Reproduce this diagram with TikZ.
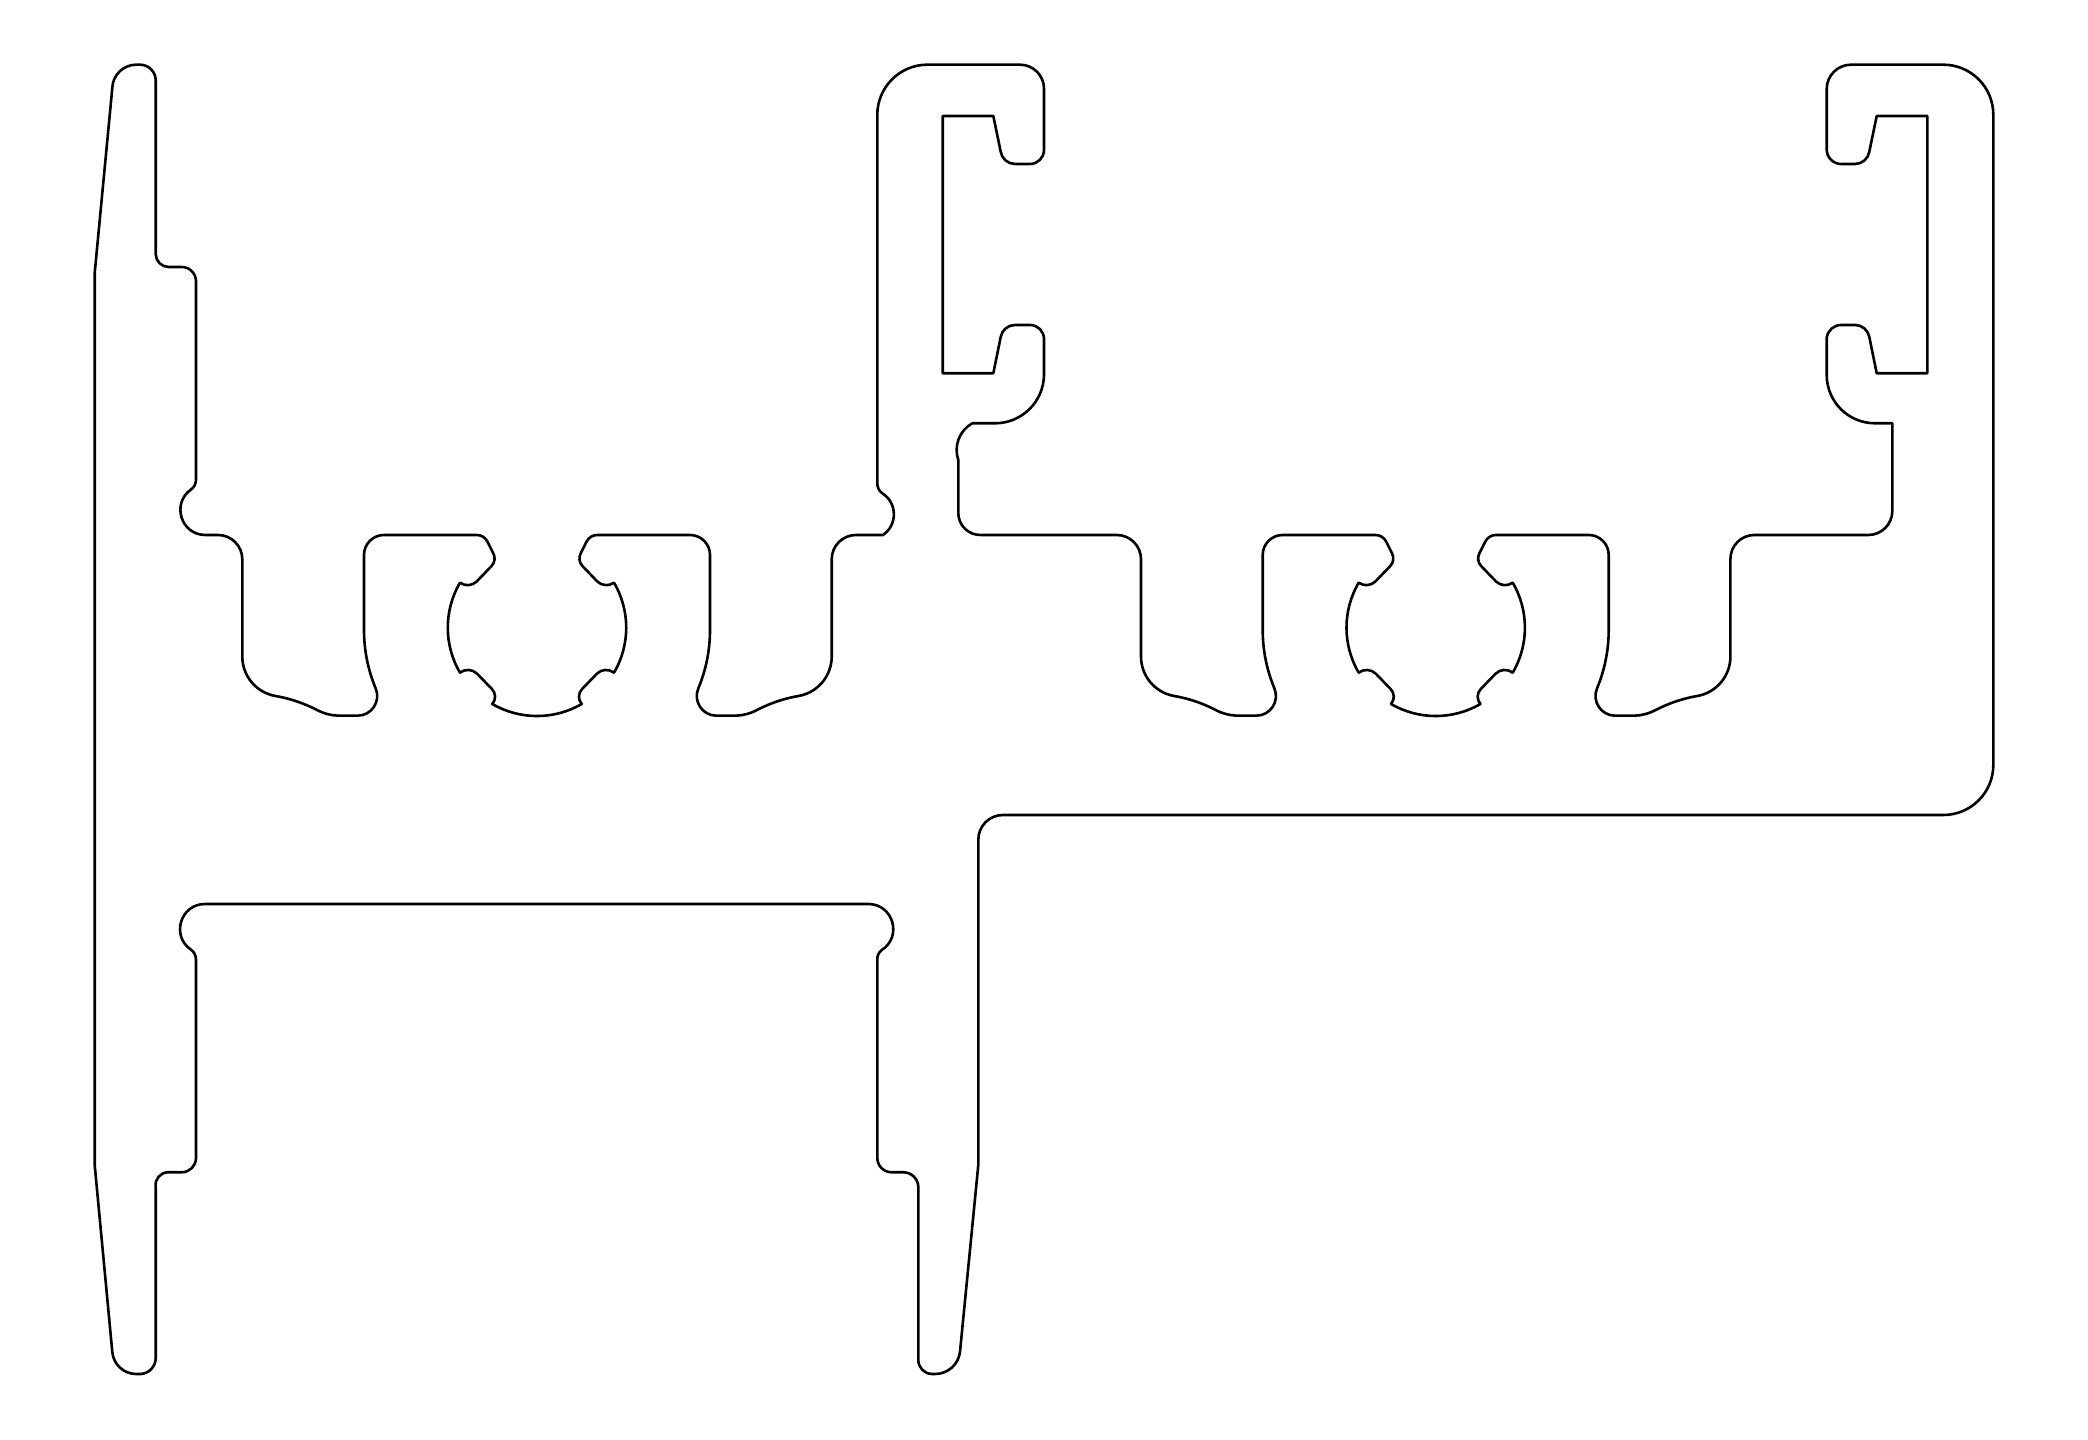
\documentclass[tikz,border=0pt]{standalone}
% path helpers: coordinates in reference pixels, y measured downwards
\newcommand\pM[2]{\xdef\pcx{#1}\xdef\pcy{#2}\pgfmathsetmacro\pyy{1440-#2}\pgfpathmoveto{\pgfqpoint{#1pt}{\pyy pt}}}
\newcommand\pL[2]{\xdef\pcx{#1}\xdef\pcy{#2}\pgfmathsetmacro\pyy{1440-#2}\pgfpathlineto{\pgfqpoint{#1pt}{\pyy pt}}}
\newcommand\pH[1]{\pL{#1}{\pcy}}
\newcommand\pV[1]{\pL{\pcx}{#1}}
\newcommand\pZ{\pgfpathclose}
\newcommand\pA[4]{%
  \pgfmathsetmacro\pdx{#3-\pcx}\pgfmathsetmacro\pdy{#4-\pcy}%
  \pgfmathsetmacro\pd{veclen(\pdx,\pdy)}%
  \pgfmathsetmacro\pth{asin(min(1,\pd/2/#1))}% half of the swept angle
  \pgfmathsetmacro\ph{atan2(\pdy,\pdx)}%
  \pgfmathsetmacro\pk{4/3*tan(\pth/2)*#1}%
  \pgfmathsetmacro\paa{\ph-#2*\pth}\pgfmathsetmacro\pab{\ph+#2*\pth}%
  \pgfmathsetmacro\pax{\pcx+\pk*cos(\paa)}\pgfmathsetmacro\pay{1440-(\pcy+\pk*sin(\paa))}%
  \pgfmathsetmacro\pbx{#3-\pk*cos(\pab)}\pgfmathsetmacro\pby{1440-(#4-\pk*sin(\pab))}%
  \pgfmathsetmacro\pyy{1440-#4}%
  \pgfpathcurveto{\pgfqpoint{\pax pt}{\pay pt}}{\pgfqpoint{\pbx pt}{\pby pt}}{\pgfqpoint{#3pt}{\pyy pt}}%
  \xdef\pcx{#3}\xdef\pcy{#4}}
\begin{document}
\begin{tikzpicture}
\path[use as bounding box,fill=white] (0pt,0pt) rectangle (2088pt,1440pt);
\begin{pgfscope}
\pgfsetlinewidth{2.6pt}\pgfsetroundjoin
\pM{94.7}{273}\pL{112.3}{88}\pA{24}{1}{136}{64.7}\pH{140}\pA{15.7}{1}{155.7}{80.4}
\pV{254}\pA{13}{-1}{168.7}{267}\pH{181.7}\pA{14.3}{1}{196}{281.3}\pV{480}\pA{12}{1}{190.8}{489.7}
\pA{25}{-1}{205}{535}\pH{218}\pA{24.3}{1}{242.3}{559.5}\pV{656.7}
\pA{40}{-1}{275.5}{696}\pA{142}{1}{316}{709.5}\pA{49}{-1}{338}{715.7}\pH{357.5}
\pA{19.7}{-1}{375.7}{688.4}\pA{151.6}{1}{364}{630}\pV{555}\pA{20}{1}{384}{535}\pH{476.7}
\pA{12}{1}{487.45}{541.6}\pL{493.3}{553.3}\pA{11}{1}{491.4}{566.2}\pL{476.7}{581.5}\pA{13}{1}{460}{582.7}
\pA{89}{-1}{460}{672.7}\pA{13}{1}{477.2}{673.8}\pL{491.8}{688.9}\pA{11}{1}{492.3}{704}
\pA{89}{-1}{581.7}{704}\pA{11}{1}{582.2}{688.9}\pL{596.8}{673.8}\pA{13}{1}{614}{672.7}
\pA{89}{-1}{614}{582.7}\pA{13}{1}{597.3}{581.5}\pL{582.6}{566.2}\pA{11}{1}{580.7}{553.3}\pL{586.55}{541.6}
\pA{12}{1}{597.3}{535}\pH{690}\pA{20}{1}{710}{555}\pV{630}\pA{151.6}{1}{698.3}{688.4}
\pA{19.7}{-1}{716.5}{715.7}\pH{736}\pA{49}{-1}{758}{709.5}\pA{142}{1}{798.5}{696}
\pA{40}{-1}{831.7}{656.7}\pV{559.5}\pA{24.3}{1}{856}{535}\pH{883}
\pA{25}{-1}{882}{493.1}\pA{12}{1}{877.3}{483}\pV{115}\pA{50}{1}{927}{64.7}\pH{1020}
\pA{24}{1}{1044}{89}\pV{150}\pA{14}{1}{1030}{164}\pH{1015}\pA{14.5}{1}{1000.7}{151.7}
\pL{993.3}{116}\pH{942.7}\pV{373.3}\pH{993.3}\pL{1000.7}{337}\pA{14.5}{1}{1015}{325}\pH{1030}
\pA{14}{1}{1044}{339}\pV{375}\pA{49}{1}{995}{423.3}\pH{972.3}
\pA{30.6}{-1}{958.3}{460}\pV{513}\pA{22}{-1}{981}{535}\pH{1116.7}
\pA{24.3}{1}{1141}{559.5}\pV{656.7}
\pA{40}{-1}{1174.2}{696}\pA{142}{1}{1214.7}{709.5}\pA{49}{-1}{1236.7}{715.7}\pH{1256.2}
\pA{19.7}{-1}{1274.4}{688.4}\pA{151.6}{1}{1262.7}{630}\pV{555}\pA{20}{1}{1282.7}{535}\pH{1375.4}
\pA{12}{1}{1386.15}{541.6}\pL{1392}{553.3}\pA{11}{1}{1390.1}{566.2}\pL{1375.4}{581.5}\pA{13}{1}{1358.7}{582.7}
\pA{89}{-1}{1358.7}{672.7}\pA{13}{1}{1375.9}{673.8}\pL{1390.5}{688.9}\pA{11}{1}{1391}{704}
\pA{89}{-1}{1480.4}{704}\pA{11}{1}{1480.9}{688.9}\pL{1495.5}{673.8}\pA{13}{1}{1512.7}{672.7}
\pA{89}{-1}{1512.7}{582.7}\pA{13}{1}{1496}{581.5}\pL{1481.3}{566.2}\pA{11}{1}{1479.4}{553.3}\pL{1485.25}{541.6}
\pA{12}{1}{1496}{535}\pH{1588.7}\pA{20}{1}{1608.7}{555}\pV{630}\pA{151.6}{1}{1597}{688.4}
\pA{19.7}{-1}{1615.2}{715.7}\pH{1634.7}\pA{49}{-1}{1656.7}{709.5}\pA{142}{1}{1697.2}{696}
\pA{40}{-1}{1730.4}{656.7}\pV{559}\pA{24}{1}{1754}{535}\pH{1868.3}\pA{24}{-1}{1892.3}{511}\pV{423.3}\pH{1875}
\pA{48.3}{1}{1826.7}{375}\pV{338}\pA{14.5}{1}{1841.7}{325}\pH{1855}\pA{14.5}{1}{1869.3}{337}
\pL{1876.7}{373.3}\pH{1927.3}\pV{116}\pH{1876.7}\pL{1869.3}{151.7}\pA{14.5}{1}{1855}{164}\pH{1841.7}
\pA{14.5}{1}{1826.7}{150}\pV{89}\pA{24.3}{1}{1851}{64.7}\pH{1943.3}\pA{50}{1}{1993.3}{114.7}
\pV{765}\pA{50}{1}{1943.3}{815}\pH{1003}\pA{24.7}{-1}{978.3}{840}\pV{1165}\pL{960}{1351.7}
\pA{25}{1}{935}{1374}\pH{931.7}\pA{14}{1}{918.3}{1360}\pV{1186.7}\pA{15}{-1}{903.5}{1172.3}\pH{891.7}
\pA{14.4}{1}{877.3}{1158}\pV{960}\pA{11.4}{1}{881.35}{950.3}\pA{25}{-1}{868.3}{904}\pH{205}
\pA{25}{-1}{191}{949.7}\pA{12}{1}{196}{960}\pV{1158.3}\pA{14.3}{1}{181.7}{1172.3}\pH{168.3}
\pA{12.6}{-1}{155.7}{1186.7}\pV{1358}\pA{16}{1}{141}{1374}\pH{136}\pA{24}{1}{112.3}{1352}
\pL{94.7}{1165}\pZ
\pgfusepath{stroke}
\end{pgfscope}
\end{tikzpicture}
\end{document}
